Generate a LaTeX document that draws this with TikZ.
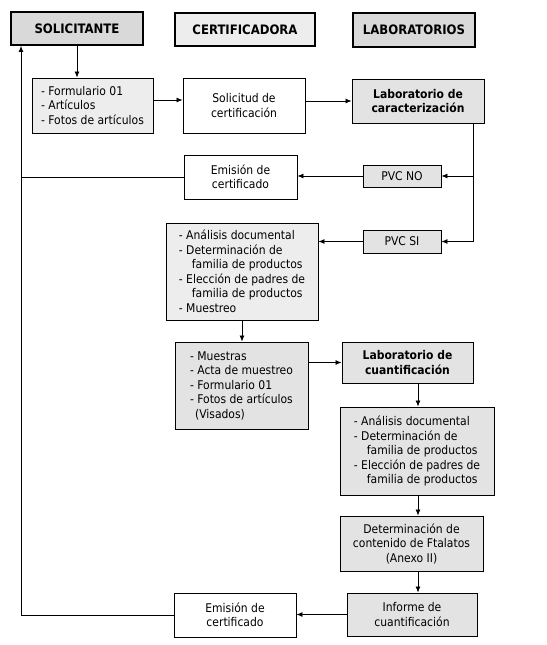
\documentclass[tikz,border=0pt]{standalone}
\usepackage{fontspec}
\setmainfont{DejaVu Sans Condensed}
\usetikzlibrary{arrows.meta}
\definecolor{shadeA}{gray}{0.85}
\definecolor{shadeB}{gray}{0.89}
\definecolor{shadeC}{gray}{0.93}
\tikzset{
  box/.style={draw=black, line width=0.9pt, inner sep=2pt, align=center,
    font=\fontsize{12}{14.5}\selectfont},
  head/.style={box, line width=1.8pt, fill=shadeA, font=\bfseries\fontsize{13}{15}\selectfont},
  labbox/.style={box, fill=shadeB, font=\bfseries\fontsize{12}{14.5}\selectfont},
  listbox/.style={box, align=left},
  conn/.style={line width=0.8pt},
  arr/.style={conn, -{Latex[length=6pt,width=5pt]}},
}
\begin{document}
\begin{tikzpicture}[x=1pt, y=-1pt]
\useasboundingbox (0,0) rectangle (546,645);
% headers
\node[head, minimum width=132pt, minimum height=33pt] (sol) at (77,28.5) {SOLICITANTE};
\node[head, fill=shadeC, minimum width=140pt, minimum height=33pt] (cert) at (245,29.5) {CERTIFICADORA};
\node[head, minimum width=122pt, minimum height=34pt] (lab) at (414,30) {LABORATORIOS};
% row 2
\node[listbox, fill=shadeC, minimum width=121pt, minimum height=55pt] (form) at (92.5,105.5)
  {- Formulario 01\\- Artículos\\- Fotos de artículos};
\node[box, fill=white, minimum width=122pt, minimum height=55pt] (solic) at (244,105.5)
  {Solicitud de\\certificación};
\node[labbox, minimum width=132pt, minimum height=44pt] (labcar) at (418,101)
  {Laboratorio de\\caracterización};
% PVC rows
\node[box, fill=white, minimum width=113pt, minimum height=44pt] (emi1) at (240.5,177)
  {Emisión de\\certificado};
\node[box, fill=shadeB, minimum width=78pt, minimum height=22pt] (pvcno) at (402,176) {PVC NO};
\node[box, fill=shadeB, minimum width=78pt, minimum height=23pt] (pvcsi) at (402,241.5) {PVC SI};
\node[listbox, fill=shadeC, minimum width=152pt, minimum height=97pt] (ana1) at (242,271.5)
  {- Análisis documental\\- Determinación de\\\hspace*{13pt}familia de productos\\- Elección de padres de\\\hspace*{13pt}familia de productos\\- Muestreo};
% lower part
\node[listbox, fill=shadeB, minimum width=133pt, minimum height=87pt] (muest) at (241.5,385.5)
  {- Muestras\\- Acta de muestreo\\- Formulario 01\\- Fotos de artículos\\\hspace*{5pt}(Visados)};
\node[labbox, minimum width=131pt, minimum height=41pt] (labcu) at (407.5,362.5)
  {Laboratorio de\\cuantificación};
\node[listbox, fill=shadeB, minimum width=154pt, minimum height=88pt] (ana2) at (417,451)
  {- Análisis documental\\- Determinación de\\\hspace*{13pt}familia de productos\\- Elección de padres de\\\hspace*{13pt}familia de productos};
\node[box, fill=shadeB, minimum width=143pt, minimum height=55pt] (det) at (411.5,543.5)
  {Determinación de\\contenido de Ftalatos\\(Anexo II)};
\node[box, fill=shadeB, minimum width=130pt, minimum height=43pt] (inf) at (412,614.5)
  {Informe de\\cuantificación};
\node[box, fill=white, minimum width=122pt, minimum height=44pt] (emi2) at (235,615)
  {Emisión de\\certificado};
% guide coordinates
\coordinate (lv) at (21,0);
\coordinate (rv) at (473,0);
\coordinate (cv) at (418,0);
% connectors
\draw[arr] (sol.south) -- (sol.south |- form.north);
\draw[arr] ([yshift=5.5pt]form.east) -- ([yshift=5.5pt]form.east -| solic.west);
\draw[arr] (labcar.west -| solic.east) -- (labcar.west);
\draw[arr] (labcar.south -| rv) |- (pvcsi.east);
\draw[arr] (rv |- pvcno.east) -- (pvcno.east);
\draw[arr] (pvcno.west) -- (pvcno.west -| emi1.east);
\draw[conn] (emi1.west) -- (emi1.west -| lv);
\draw[arr] (pvcsi.west) -- (pvcsi.west -| ana1.east);
\draw[arr] (ana1.south) -- (ana1.south |- muest.north);
\draw[arr] (labcu.west -| muest.east) -- (labcu.west);
\draw[arr] (labcu.south -| cv) -- (ana2.north -| cv);
\draw[arr] (ana2.south -| cv) -- (det.north -| cv);
\draw[arr] (det.south -| cv) -- (inf.north -| cv);
\draw[arr] (inf.west) -- (inf.west -| emi2.east);
\draw[arr] (emi2.west) -| (sol.south -| lv);
\end{tikzpicture}
\end{document}
